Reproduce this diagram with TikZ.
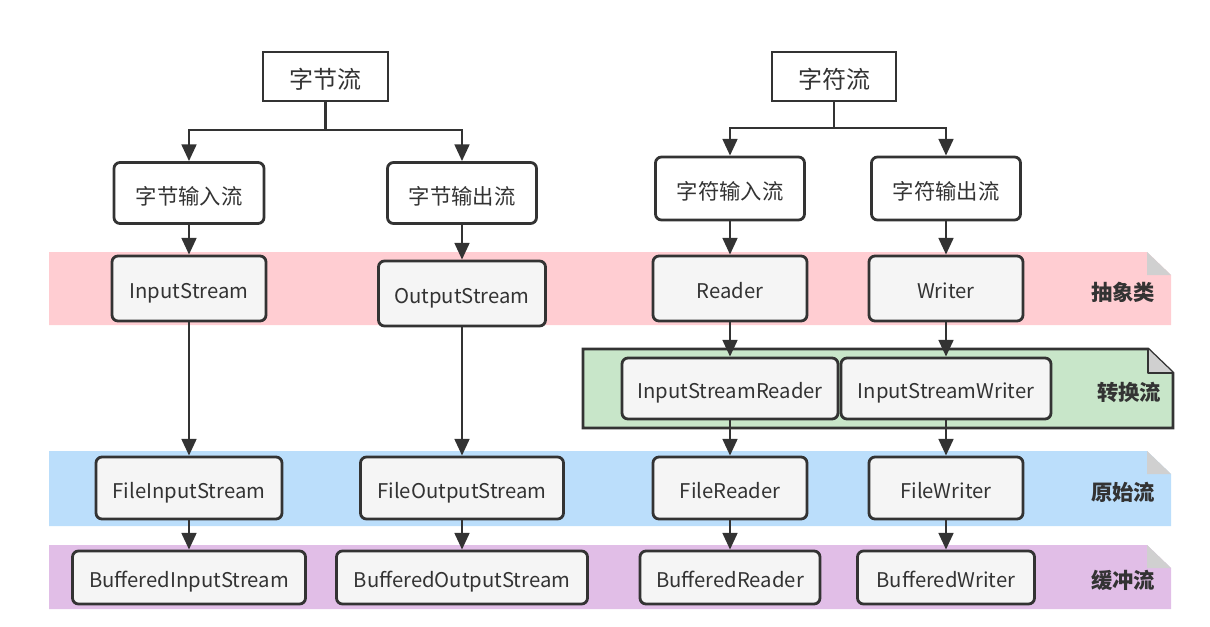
\documentclass[tikz,border=0pt]{standalone}
\usepackage{fontspec}
\setmainfont{Noto Sans CJK SC}
\usepackage{tikz}
\usetikzlibrary{arrows.meta,positioning}

\definecolor{abspink}{RGB}{255,205,210}
\definecolor{cvtgreen}{RGB}{200,230,201}
\definecolor{rawblue}{RGB}{187,222,251}
\definecolor{bufpurple}{RGB}{225,190,231}
\definecolor{foldgray}{RGB}{208,208,208}
\definecolor{ink}{RGB}{51,51,51}

\tikzset{
  root/.style={draw=ink, text=ink, line width=2.1pt, fill=white, inner sep=0pt, text height=18.6pt, text depth=0pt, font=\fontsize{18}{20}\selectfont},
  kind/.style={draw=ink, text=ink, line width=2.1pt, fill=white, rounded corners=4.5pt, inner sep=0pt, text height=17pt, text depth=0pt, font=\fontsize{16}{18}\selectfont},
  cls/.style={kind, fill=black!4, text height=15.7pt, font=\fontsize{15.2}{17}\selectfont},
  tag/.style={text=ink, font=\fontsize{16}{18}\selectfont\bfseries},
  link/.style={draw=ink, line width=2pt},
  arr/.style={link, -{Triangle[length=12.5pt,width=11pt]}}
}

\begin{document}
\begin{tikzpicture}[x=0.75pt, y=-0.75pt]
    \useasboundingbox (0,0) rectangle (1210,626);

    % Bands with folded corner
    \fill[abspink] (49,252) -- (1147,252) -- (1171,275) -- (1171,325) -- (49,325) -- cycle;
    \fill[foldgray] (1147,252) -- (1147,275) -- (1171,275) -- cycle;
    \fill[rawblue] (49,451) -- (1147,451) -- (1171,474) -- (1171,526) -- (49,526) -- cycle;
    \fill[foldgray] (1147,451) -- (1147,474) -- (1171,474) -- cycle;
    \fill[bufpurple] (49,545) -- (1147,545) -- (1171,568) -- (1171,609) -- (49,609) -- cycle;
    \fill[foldgray] (1147,545) -- (1147,568) -- (1171,568) -- cycle;
    \draw[fill=cvtgreen, draw=ink, line width=2.1pt] (583,349) -- (1148,349) -- (1173,373) -- (1173,428) -- (583,428) -- cycle;
    \draw[fill=foldgray, draw=ink, line width=2.1pt, line join=round] (1148,349) -- (1148,373) -- (1173,373);

    % Band labels
    \node[tag] (abs) at (1123,292) {抽象类};
    \node[tag] (cvt) at (1129,392) {转换流};
    \node[tag] (raw) at (1123,492) {原始流};
    \node[tag] (buf) at (1123,580) {缓冲流};

    % Roots
    \node[root, minimum width=93.75pt, minimum height=36.75pt] (byte) at (325.5,76.5) {字节流};
    \node[root, minimum width=93pt, minimum height=36.75pt] (char) at (834,76.5) {字符流};

    % Input / output kinds
    \node[kind, minimum width=112.5pt, minimum height=45.75pt] (bin) at (189,193) {字节输入流};
    \node[kind, minimum width=111.75pt, minimum height=45.75pt] (bout) at (462,193) {字节输出流};
    \node[kind, minimum width=111.75pt, minimum height=47.25pt] (cin) at (730,188.5) {字符输入流};
    \node[kind, minimum width=111.75pt, minimum height=47.25pt] (cout) at (946,188.5) {字符输出流};

    % Abstract classes
    \node[cls, minimum width=115.5pt, minimum height=48.75pt] (is) at (189,288.5) {InputStream};
    \node[cls, minimum width=125.25pt, minimum height=48.75pt] (os) at (462,293.5) {OutputStream};
    \node[cls, minimum width=115.5pt, minimum height=48.75pt] (rd) at (730,288.5) {Reader};
    \node[cls, minimum width=115.5pt, minimum height=48.75pt] (wr) at (946,288.5) {Writer};

    % Converters
    \node[cls, minimum width=162pt, minimum height=45.75pt] (isr) at (730,388.5) {InputStreamReader};
    \node[cls, minimum width=157.5pt, minimum height=45.75pt] (isw) at (946,388.5) {InputStreamWriter};

    % File streams
    \node[cls, minimum width=139.5pt, minimum height=46.5pt] (fis) at (189,488) {FileInputStream};
    \node[cls, minimum width=152.25pt, minimum height=46.5pt] (fos) at (462,488) {FileOutputStream};
    \node[cls, minimum width=115.5pt, minimum height=46.5pt] (fr) at (730,488) {FileReader};
    \node[cls, minimum width=115.5pt, minimum height=46.5pt] (fw) at (946,488) {FileWriter};

    % Buffered streams
    \node[cls, minimum width=174.75pt, minimum height=39.75pt] (bis) at (189,577.5) {BufferedInputStream};
    \node[cls, minimum width=188.25pt, minimum height=39.75pt] (bos) at (462,577.5) {BufferedOutputStream};
    \node[cls, minimum width=135pt, minimum height=39.75pt] (br) at (730,577.5) {BufferedReader};
    \node[cls, minimum width=132.75pt, minimum height=39.75pt] (bw) at (946,577.5) {BufferedWriter};

    % Branches from roots
    \coordinate (bj) at (325.5,130);
    \coordinate (cj) at (834,128);
    \draw[link] (byte) -- (bj);
    \draw[arr] (bj) -| (bin);
    \draw[arr] (bj) -| (bout);
    \draw[link] (char) -- (cj);
    \draw[arr] (cj) -| (cin);
    \draw[arr] (cj) -| (cout);

    % Vertical chains
    \draw[arr] (bin) -- (is);
    \draw[arr] (is) -- (fis);
    \draw[arr] (fis) -- (bis);
    \draw[arr] (bout) -- (os);
    \draw[arr] (os) -- (fos);
    \draw[arr] (fos) -- (bos);
    \draw[arr] (cin) -- (rd);
    \draw[arr] (rd) -- (isr);
    \draw[arr] (isr) -- (fr);
    \draw[arr] (fr) -- (br);
    \draw[arr] (cout) -- (wr);
    \draw[arr] (wr) -- (isw);
    \draw[arr] (isw) -- (fw);
    \draw[arr] (fw) -- (bw);
\end{tikzpicture}
\end{document}
